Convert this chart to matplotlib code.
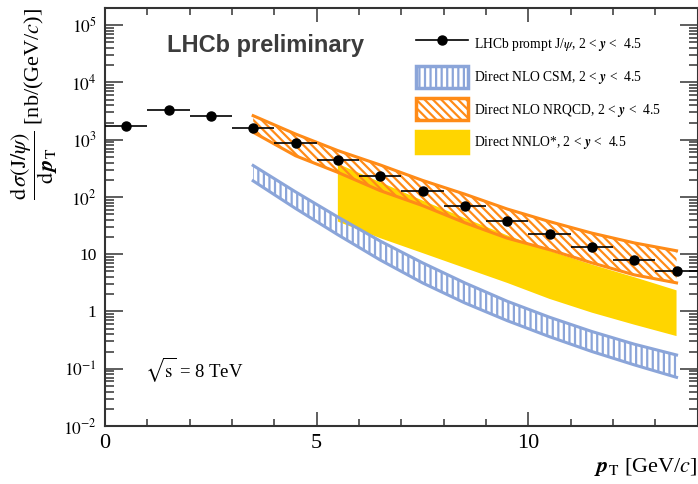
import matplotlib
matplotlib.use('Agg')
import matplotlib.pyplot as plt
from matplotlib.lines import Line2D
from matplotlib.patches import Patch

# datos LHCb
pt_x = [0.5, 1.5, 2.5, 3.5, 4.5, 5.5, 6.5, 7.5, 8.5, 9.5, 10.5, 11.5, 12.5, 13.5]
pt_xerr = [0.5] * 14
pt_y = [1760, 3300, 2630, 1580, 865, 441, 235, 125, 68.5, 38.4, 22.4, 13.2, 8.0, 5.2]

# bandas teoricas
band_x = [3.5, 4.5, 5.5, 6.5, 7.5, 8.5, 9.5, 10.5, 11.5, 12.5, 13.5]
nrqcd_hi = [2630, 1260, 646, 363, 195, 112, 61.7, 37.2, 23.4, 15.8, 11.5]
nrqcd_lo = [1350, 525, 269, 129, 70.8, 35.5, 19.1, 12.0, 7.08, 4.37, 3.16]
csm_hi = [355, 123, 44.7, 17.0, 7.08, 3.16, 1.51, 0.794, 0.447, 0.269, 0.174]
csm_lo = [191, 63.1, 21.9, 7.94, 3.16, 1.41, 0.692, 0.363, 0.2, 0.117, 0.0708]

nnlo_x = [5.5, 6.5, 7.5, 8.5, 9.5, 10.5, 11.5, 12.5, 13.5]
nnlo_hi = [380, 182, 87, 42.7, 21.4, 11.5, 6.6, 3.98, 2.34]
nnlo_lo = [37.2, 19.1, 10.5, 5.75, 3.16, 1.66, 0.955, 0.589, 0.372]

y_ticks = [1e-2, 1e-1, 1, 10, 1e2, 1e3, 1e4, 1e5]
y_tick_labels = [r'$10^{-2}$', r'$10^{-1}$', '1', '10', r'$10^{2}$', r'$10^{3}$', r'$10^{4}$', r'$10^{5}$']
x_ticks = [0, 5, 10]
x_tick_labels = ['0', '5', '10']

labels = [r'LHCb prompt J/$\psi$, 2 < $\mathbfit{y}$ <  4.5',
          r'Direct NLO CSM, 2 < $\mathbfit{y}$ <  4.5',
          r'Direct NLO NRQCD, 2 < $\mathbfit{y}$ <  4.5',
          r'Direct NNLO*, 2 < $\mathbfit{y}$ <  4.5']

c_blue = '#8ba5d9'
c_orange = '#ff8b17'
c_yellow = '#ffd500'
c_axis = '#333333'

plt.rcParams['font.family'] = ['Liberation Serif', 'DejaVu Serif']
plt.rcParams['mathtext.fontset'] = 'stix'
plt.rcParams['hatch.linewidth'] = 1.6

fig = plt.figure(figsize=(6.98, 4.84), dpi=100)
ax = fig.add_axes([105 / 698, 58 / 484, 592.7 / 698, 418 / 484])

# NNLO* (relleno amarillo)
ax.fill_between(nnlo_x, nnlo_lo, nnlo_hi, facecolor=c_yellow, edgecolor='none', lw=0, zorder=1)

# NLO CSM (rayado vertical azul)
ax.fill_between(band_x, csm_lo, csm_hi, facecolor='none', edgecolor=c_blue, hatch='|||', lw=0, zorder=2)
ax.plot(band_x, csm_hi, color=c_blue, lw=2.2, zorder=2)
ax.plot(band_x, csm_lo, color=c_blue, lw=2.2, zorder=2)

# NLO NRQCD (rayado diagonal naranja)
ax.fill_between(band_x, nrqcd_lo, nrqcd_hi, facecolor='none', edgecolor=c_orange, hatch='\\\\\\\\', lw=0, zorder=3)
ax.plot(band_x, nrqcd_hi, color=c_orange, lw=2.2, zorder=3)
ax.plot(band_x, nrqcd_lo, color=c_orange, lw=2.2, zorder=3)

# puntos de datos
ax.errorbar(pt_x, pt_y, xerr=pt_xerr, fmt='o', color='black', ms=6.5, elinewidth=1.2,
            capsize=0, zorder=5)

ax.set_yscale('log')
ax.set_xlim(0, 14)
ax.set_ylim(0.01, 2e5)
ax.set_yticks(y_ticks, labels=y_tick_labels)
ax.set_xticks(x_ticks, labels=x_tick_labels)
ax.set_xticks(range(0, 14), minor=True)

for s in ax.spines.values():
    s.set_linewidth(1.5)
    s.set_color(c_axis)

ax.tick_params(axis='y', which='major', direction='in', length=13, width=1.1, color=c_axis,
               right=True, labelsize=12.5, pad=6)
ax.tick_params(axis='y', which='minor', direction='in', length=6.5, width=1.1, color=c_axis, right=True)
ax.tick_params(axis='x', which='major', direction='in', length=10, width=1.1, color=c_axis,
               top=True, labelsize=16, pad=6)
ax.tick_params(axis='x', which='minor', direction='in', length=5, width=1.1, color=c_axis, top=True)
ax.yaxis.set_minor_formatter(matplotlib.ticker.NullFormatter())

ax.set_ylabel(r'$\dfrac{\mathrm{d}\,\sigma(\mathrm{J}/\psi)}{\mathrm{d}\,\mathbfit{p}_{\mathrm{T}}}$ [nb/(GeV/$c$)]',
              loc='top', fontsize=16, labelpad=2)
ax.set_xlabel(r'$\mathbfit{p}_{\mathrm{T}}$ [GeV/$c$]', loc='right', fontsize=16, labelpad=2)

ax.text(0.104, 0.91, 'LHCb preliminary', transform=ax.transAxes, fontsize=17,
        fontweight='bold', family='Liberation Sans', color='#3c3c3c', va='center')
ax.text(0.068, 0.135, r'$\sqrt{\mathrm{s}}$ = 8 TeV', transform=ax.transAxes, fontsize=13.5, va='center')

handles = [
    Line2D([], [], color='black', marker='o', ms=6.5, lw=1.2),
    Patch(facecolor='white', edgecolor=c_blue, hatch='|||', lw=2.5),
    Patch(facecolor='white', edgecolor=c_orange, hatch='\\\\\\\\', lw=2.5),
    Patch(facecolor=c_yellow, edgecolor=c_yellow, lw=2.5),
]
ax.legend(handles, labels, loc='upper left', bbox_to_anchor=(0.504, 0.97), frameon=False,
          fontsize=9.8, handlelength=3.8, handleheight=2.1, labelspacing=0.8,
          handletextpad=0.45)

fig.savefig('out.png', dpi=100)
